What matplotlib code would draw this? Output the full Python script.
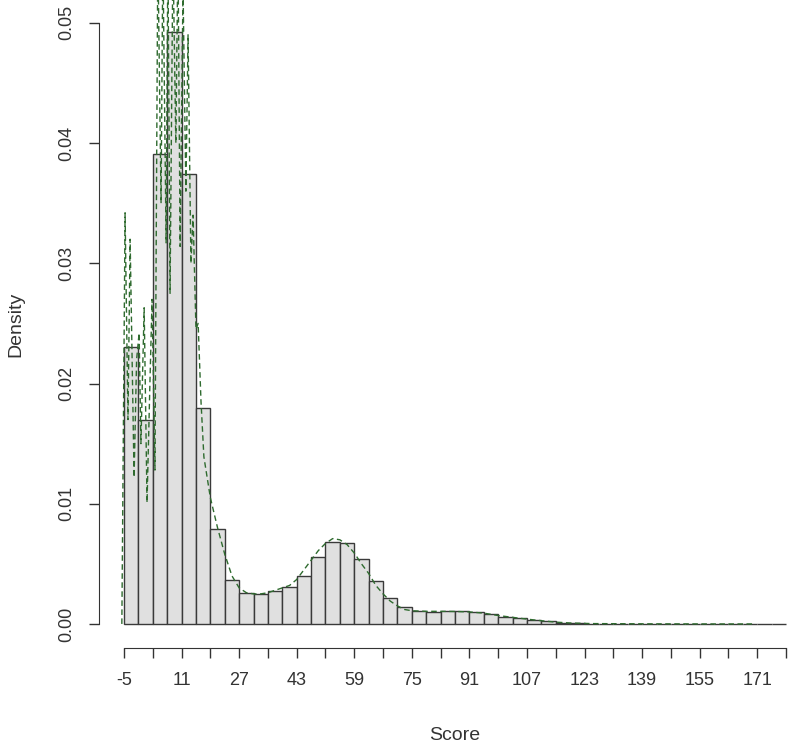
import numpy as np
import matplotlib
matplotlib.use("Agg")
import matplotlib.pyplot as plt

plt.rcParams['font.family'] = ['Liberation Sans', 'DejaVu Sans']

# histogram: bins of width 4 starting at -5
bin_left = np.arange(-5, 179, 4)
dens = [0.0230, 0.0170, 0.0391, 0.0492, 0.0374, 0.0180, 0.0079, 0.00366,
        0.0026, 0.0025, 0.00277, 0.00305, 0.0040, 0.00555, 0.0068, 0.0067,
        0.0054, 0.0036, 0.0022, 0.0014, 0.00108, 0.0010, 0.00106, 0.00106,
        0.00097, 0.00083, 0.0006, 0.00047, 0.00033, 0.00022, 0.0001, 0.00004,
        0.00002, 0.00001, 0.0, 0.0, 0.0, 0.0, 0.0, 0.0, 0.0, 0.0, 0.0, 0.0, 0.0, 0.0]

# kernel density line
dens_x = [-5.6, -4.7, -3.9, -3.3, -2.2, -1.5, -0.8, -0.3, 0.6, 1.4, 2.2, 2.8,
          3.6, 4.4, 5.3, 5.8, 6.7, 7.2, 7.8, 8.6, 9.4, 10.0, 10.6, 11.4, 12.2,
          12.8, 13.6, 14.2, 15.0, 15.6, 16.4, 17.2, 19, 21, 23, 25, 27, 29, 31,
          33, 35, 37, 39, 41, 43, 45, 47, 49, 51, 53, 55, 57, 59, 61, 63, 65,
          67, 69, 71, 73, 75, 79, 83, 87, 91, 95, 99, 103, 107, 111, 115, 119,
          125, 140, 160, 170]
dens_y = [0.0, 0.0342, 0.0170, 0.0320, 0.0122, 0.0220, 0.0242, 0.0150, 0.0263,
          0.0101, 0.0200, 0.0270, 0.0128, 0.0560, 0.0350, 0.0560, 0.0317,
          0.0560, 0.0275, 0.0560, 0.0400, 0.0560, 0.0314, 0.0530, 0.0360,
          0.0490, 0.0300, 0.0340, 0.0245, 0.0250, 0.0185, 0.0139, 0.0105,
          0.0080, 0.0058, 0.0040, 0.0030, 0.0026, 0.0025, 0.0025, 0.0026,
          0.0028, 0.0030, 0.0032, 0.0037, 0.0045, 0.0053, 0.0061, 0.0067,
          0.0071, 0.0070, 0.0066, 0.0059, 0.0050, 0.0042, 0.0032, 0.0025,
          0.0019, 0.0015, 0.0012, 0.0011, 0.00105, 0.00105, 0.00104, 0.0010,
          0.0009, 0.0007, 0.00055, 0.0004, 0.00027, 0.00015, 0.00008, 0.00003,
          0.00001, 0.0, 0.0]

xticks = np.arange(-5, 180, 8)
xlabels = [str(t) if (t + 5) % 16 == 0 else "" for t in xticks]
yticks = [0.00, 0.01, 0.02, 0.03, 0.04, 0.05]

fig = plt.figure(figsize=(7.89, 7.46), dpi=100)
ax = fig.add_axes([99 / 789, 1 - 648 / 746, 690 / 789, 648 / 746])

ax.bar(bin_left, dens, width=4, align='edge', color='#e0e0e0',
       edgecolor='#3a3a3a', linewidth=1.0)
ax.plot(dens_x, dens_y, color='#2f6b2f', linestyle=(0, (4, 2.5)), linewidth=1.0)

ax.set_xlim(-11.95, 179.82)
ax.set_ylim(-0.0020, 0.0519)

for s in ['top', 'right']:
    ax.spines[s].set_visible(False)
ax.spines['left'].set_bounds(0, 0.05)
ax.spines['bottom'].set_bounds(-5, 179)
ax.spines['left'].set_color('#333333')
ax.spines['bottom'].set_color('#333333')

ax.set_xticks(xticks)
ax.set_xticklabels(xlabels, fontsize=13)
ax.set_yticks(yticks)
ax.set_yticklabels(["0.00", "0.01", "0.02", "0.03", "0.04", "0.05"],
                   fontsize=13, rotation=90, va='center')
ax.tick_params(axis='both', direction='out', length=7, width=1,
               color='#333333', labelcolor='#333333', pad=10)

fig.text(455 / 789, 1 - 736 / 746, "Score", ha='center', va='center',
         fontsize=14, color='#333333')
fig.text(16 / 789, 1 - 324 / 746, "Density", ha='center', va='center',
         rotation=90, fontsize=14, color='#333333')

fig.savefig("out.png", dpi=100)
